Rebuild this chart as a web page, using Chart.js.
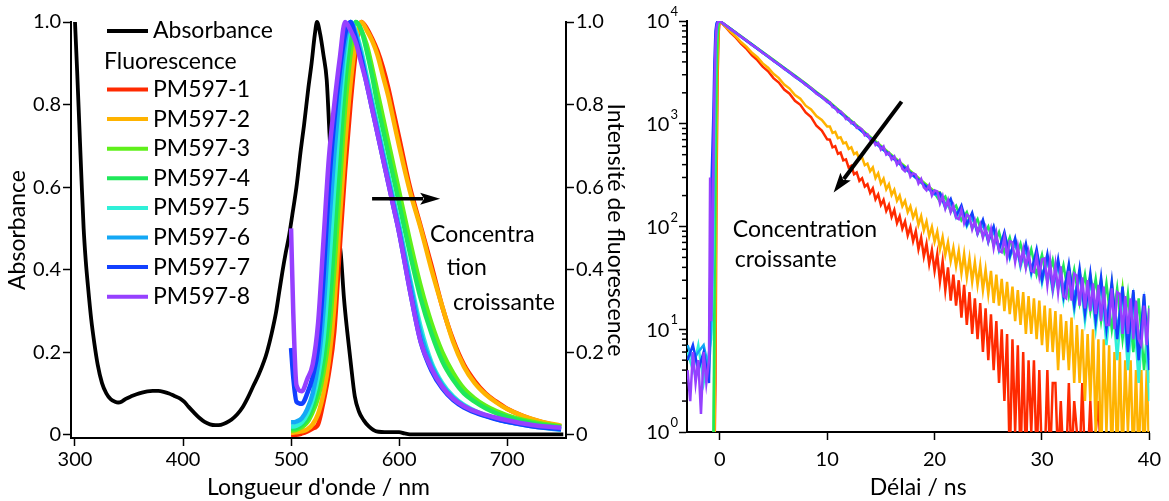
<!DOCTYPE html>
<html>
<head>
<meta charset="utf-8">
<script src="https://cdn.jsdelivr.net/npm/chart.js@4.4.0/dist/chart.umd.min.js"></script>
<style>
html, body { margin: 0; padding: 0; background: #fff; }
#gauche { position: absolute; left: 0; top: 0; width: 640px; height: 501px; }
#droite { position: absolute; left: 640px; top: 0; width: 529px; height: 501px; }
</style>
</head>
<body>
<div id="gauche"><canvas id="spectres"></canvas></div>
<div id="droite"><canvas id="declins"></canvas></div>
<script>
const POLICE = 'Lato, "Open Sans", sans-serif';
Chart.defaults.font.family = POLICE;
Chart.defaults.color = '#000';

// ---- spectre d'absorption ----
const lambdaAbs = [300,302,304,306,308,310,312,315,318,321,325,329,333,337,340,343,347,352,357,362,
  367,372,377,382,387,392,397,401,405,410,415,420,425,430,435,440,445,450,455,460,
  465,470,475,478,482,486,489,492,495,498,501,505,509,512,516,519,522,524,527,530,
  533,536,540,543,546,549,552,555,559,563,567,572,579,590,600,605,610,650,700,752];
const absorbance = [1.0,0.88,0.75,0.62,0.5,0.42,0.36,0.28,0.22,0.17,0.125,0.1,0.086,0.08,0.078,0.08,0.087,0.093,0.098,0.102,
  0.105,0.106,0.106,0.104,0.1,0.094,0.088,0.08,0.068,0.054,0.041,0.031,0.025,0.023,0.024,0.029,0.037,0.049,0.066,0.09,
  0.118,0.145,0.178,0.203,0.245,0.295,0.345,0.395,0.44,0.48,0.53,0.6,0.69,0.75,0.84,0.9,0.97,1.0,0.97,0.92,
  0.86,0.71,0.58,0.5,0.44,0.33,0.25,0.18,0.093,0.055,0.036,0.02,0.008,0.006,0.006,0.003,0.001,0.001,0.001,0.001];

// ---- spectres de fluorescence (normalisés) ----
const lambdaFluo = [500,502,505,510,515,520,525,530,535,540,545,550,555,560,565,570,575,580,585,590,
  595,600,610,620,630,640,650,660,670,680,690,700,715,730,750];
const fluo1 = [0,0,0,0.003,0.008,0.015,0.025,0.08,0.15,0.25,0.45,0.64,0.8,0.93,1.0,0.985,0.96,0.93,0.89,0.84,
  0.78,0.72,0.6,0.505,0.41,0.31,0.23,0.17,0.13,0.1,0.08,0.063,0.045,0.032,0.02];
const fluo2 = [0.005,0.005,0.006,0.008,0.013,0.025,0.05,0.1,0.18,0.31,0.52,0.7,0.85,0.95,1.0,0.98,0.955,0.92,0.87,0.82,
  0.76,0.7,0.59,0.5,0.4,0.31,0.225,0.165,0.125,0.098,0.078,0.062,0.045,0.033,0.022];
const fluo3 = [0.01,0.01,0.012,0.018,0.03,0.055,0.09,0.15,0.24,0.4,0.6,0.79,0.92,1.0,0.98,0.945,0.89,0.83,0.77,0.71,
  0.65,0.59,0.47,0.36,0.27,0.2,0.15,0.112,0.088,0.07,0.057,0.047,0.036,0.028,0.02];
const fluo4 = [0.015,0.015,0.016,0.024,0.038,0.068,0.11,0.18,0.29,0.47,0.67,0.85,0.96,1.0,0.98,0.93,0.87,0.8,0.74,0.68,
  0.62,0.56,0.44,0.33,0.245,0.178,0.133,0.1,0.08,0.064,0.052,0.043,0.033,0.025,0.018];
const fluo5 = [0.02,0.02,0.022,0.03,0.05,0.085,0.14,0.23,0.4,0.6,0.78,0.92,1.0,0.975,0.93,0.87,0.81,0.75,0.69,0.63,
  0.57,0.51,0.38,0.26,0.175,0.125,0.093,0.072,0.058,0.047,0.039,0.032,0.025,0.019,0.013];
const fluo6 = [0.03,0.03,0.032,0.04,0.062,0.1,0.17,0.3,0.5,0.68,0.83,0.95,1.0,0.97,0.92,0.86,0.8,0.74,0.68,0.62,
  0.56,0.5,0.37,0.245,0.168,0.12,0.09,0.07,0.056,0.046,0.038,0.031,0.024,0.018,0.012];
const fluo7 = [0.21,0.14,0.08,0.075,0.1,0.14,0.21,0.38,0.6,0.76,0.88,0.97,1.0,0.96,0.91,0.85,0.79,0.73,0.67,0.61,
  0.55,0.49,0.35,0.225,0.155,0.112,0.084,0.066,0.054,0.045,0.037,0.031,0.024,0.018,0.014];
const fluo8 = [0.5,0.3,0.12,0.105,0.135,0.17,0.27,0.47,0.67,0.8,0.91,1.0,0.98,0.95,0.9,0.85,0.79,0.73,0.67,0.61,
  0.55,0.49,0.35,0.225,0.16,0.116,0.087,0.069,0.057,0.048,0.041,0.035,0.027,0.021,0.017];

const noms = ['PM597-1','PM597-2','PM597-3','PM597-4','PM597-5','PM597-6','PM597-7','PM597-8'];
const couleurs = ['#ff2a00','#ffb300','#5ff01a','#1fe85a','#2ff0d8','#14a8f5','#1240ff','#9640ff'];

const ticksLambda = [300, 400, 500, 600, 700];
const ticksIntensite = [0, 0.2, 0.4, 0.6, 0.8, 1.0];

// ---- déclins de fluorescence (coups) ----
const tFin = [-3,-2.75,-2.5,-2.25,-2,-1.75,-1.5,-1.25,-1,-0.9,-0.8,-0.7,-0.6,-0.5,-0.4,-0.3,-0.2,-0.1,0,
  0.5,1,1.5,2,2.5,3,3.5,4,4.5,5,5.5,6,6.5,7,7.5,8,8.5,9,9.5,10,
  10.25,10.5,10.75,11, 11.25,11.5,11.75,12, 12.25,12.5,12.75,13, 13.25,13.5,13.75,14, 14.25,14.5,14.75,15,
  15.25,15.5,15.75,16, 16.25,16.5,16.75,17, 17.25,17.5,17.75,18, 18.25,18.5,18.75,19, 19.25,19.5,19.75,20,
  20.25,20.5,20.75,21, 21.25,21.5,21.75,22, 22.25,22.5,22.75,23, 23.25,23.5,23.75,24, 24.25,24.5,24.75,25,
  25.25,25.5,25.75,26, 26.25,26.5,26.75,27, 27.25,27.5,27.75,28, 28.25,28.5,28.75,29, 29.25,29.5,29.75,30,
  30.25,30.5,30.75,31, 31.25,31.5,31.75,32, 32.25,32.5,32.75,33, 33.25,33.5,33.75,34, 34.25,34.5,34.75,35,
  35.25,35.5,35.75,36, 36.25,36.5,36.75,37, 37.25,37.5,37.75,38, 38.25,38.5,38.75,39, 39.25,39.5,39.75,40];
const tGros = [-3,-2.5,-2,-1.5,-1,-0.8,-0.6,-0.5,-0.4,-0.3,-0.2,-0.1,0,
  1,2,3,4,5,6,7,8,9,10,11,12,13,14,15,16,17,18,19,20,
  20.5,21,21.5,22,22.5,23,23.5,24,24.5,25,25.5,26,26.5,27,27.5,28,28.5,29,29.5,30,
  30.5,31,31.5,32,32.5,33,33.5,34,34.5,35,35.5,36,36.5,37,37.5,38,38.5,39,39.5,40];

const declin1 = [0.5,0.5,0.5,0.5,0.5,0.5,0.5,0.5,0.5,0.5,0.5,0.5,0.5,0.5,3,250,2800,7800,10000,
  8840,7720,6880,5990,5350,4640,4160,3590,3240,2780,2520,2150,1960,1670,1530,1290,1160,955,860,705,
  700,590,605,510, 525,440,450,375, 390,322,336,278, 295,245,258,212, 235,184,205,162,
  182,142,162,124, 145,108,126,95, 112,82,99,72, 90,60,78,51, 68,43,59,37,
  54,29,46,24, 40,19,34,17, 30,13,27,11, 23,9,20,8, 18,6,16,5,
  14,4,12,3, 10,2,9,0.5, 8,1,7,0.5, 6,0.5,5,1, 5,0.5,4,0.5,
  0.5,4,0.5,3, 3,0.5,2,0.5, 0.5,3,0.5,2, 1,0.5,3,0.5, 0.5,2,0.5,1,
  2,0.5,0.5,1, 0.5,1,0.5,0.5, 0.5,0.5,1,0.5, 0.5,0.5,0.5,0.5, 0.5,0.5,0.5,0.5];
const declin2 = [0.5,0.5,0.5,0.5,0.5,0.5,0.5,0.5,0.5,0.5,0.5,0.5,0.5,0.5,15,700,4800,8900,10000,
  8920,7870,7070,6210,5600,4900,4440,3870,3510,3060,2780,2410,2200,1900,1750,1500,1380,1190,1090,940,
  940,815,835,725, 740,645,660,570, 590,505,525,450, 470,395,410,345, 375,296,330,262,
  292,230,258,203, 228,178,200,158, 178,138,157,122, 143,104,126,92, 112,80,99,71,
  89,60,79,53, 70,46,62,41, 58,35,54,32, 49,29,45,27, 42,24,38,22,
  37,18,34,17, 31,15,29,14, 26,12,24,11, 23,9,21,9, 20,8,19,7,
  17,6,16,6, 15,4,14,5, 12,4,13,3, 11,3,10,2, 9,2,10,1,
  8,0.5,8,1, 7,0.5,6,0.5, 6,0.5,5,1, 5,0.5,4,0.5, 4,0.5,4,0.5];
const declin3 = [0.5,0.5,0.5,0.5,0.5,0.5,0.5,5,200,2500,7000,9500,10000,
  8450,7090,5950,4990,4190,3510,2950,2470,2040,1700,1385,1125,918,748,610,497,405,330,269,219,
  215,160,180,128,150,110,128,88,108,74,92,62,80,52,70,44,60,38,52,33,
  48,27,44,23,40,19,36,16,33,14,30,12,28,9,25,7,23,5,21,3];
const declin4 = [0.5,0.5,0.5,0.5,0.5,0.5,0.5,20,600,4000,8000,9700,10000,
  8400,7040,5900,4940,4140,3470,2905,2435,2005,1670,1358,1103,897,729,593,482,391,318,259,211,
  175,196,140,160,115,138,96,118,80,100,66,88,56,78,48,68,40,60,34,53,
  29,47,25,42,21,38,18,34,15,31,12,28,10,25,8,22,6,20,4,17];
const declin5 = [6,4,7,3,6,8,60,900,5000,8500,9600,9900,10000,
  8360,7000,5860,4905,4110,3440,2880,2410,1988,1652,1343,1090,886,720,585,476,386,314,255,207,
  210,150,175,122,152,100,130,84,112,70,98,58,84,49,74,40,64,34,56,28,
  50,23,44,19,39,15,35,12,31,10,28,7,25,5,23,4,20,3,18,2];
const declin6 = [7,5,6,7,4,10,150,1500,6000,9000,9800,9950,10000,
  8350,6990,5850,4900,4100,3435,2875,2405,1985,1650,1340,1088,884,718,584,475,385,313,254,206,
  200,168,165,136,142,112,120,92,102,78,88,64,77,55,67,47,58,40,51,34,
  46,29,41,25,36,21,33,18,30,15,27,13,24,10,22,8,20,6,18,5];
const declin7 = [5,7,4,6,3,200,1200,4000,8000,9500,9900,10000,10000,
  8390,7030,5890,4930,4130,3460,2895,2425,2000,1665,1352,1099,893,726,590,480,390,317,258,210,
  212,155,186,126,160,104,136,86,116,72,100,60,88,51,77,43,68,36,60,30,
  54,25,48,21,43,17,39,14,35,12,32,10,29,8,26,6,24,5,22,4];
const declin8 = [4,2,6,3,5,1.5,6,3,5,300,12,40,350,2200,5800,8600,9600,9950,10000,
  9180,8330,7700,6980,6460,5830,5410,4880,4540,4080,3800,3410,3190,2850,2670,2390,2230,1960,1840,1630,
  1620,1450,1440,1300, 1320,1240,1110,1120, 1010,1030,910,920, 880,770,790,700, 710,620,650,560,
  600,500,520,450, 480,400,440,365, 345,380,305,330, 320,262,290,240, 225,252,200,225,
  220,168,198,150, 180,138,160,122, 118,145,108,130, 125,94,114,86, 104,78,97,72,
  94,62,86,58, 56,78,50,72, 70,45,64,43, 60,40,56,37, 36,51,33,48,
  49,27,46,25, 42,23,41,21, 20,37,19,35, 33,17,32,16, 30,15,28,14,
  27,12,26,11, 11,25,10,23, 22,9,21,9, 20,8,19,8, 7,17,7,16];

const ticksDelai = [0, 10, 20, 30, 40];
const ticksCoups = [1, 10, 100, 1000, 10000];

const paires = (xs, ys) => xs.map((x, i) => ({ x: x, y: ys[i] }));

// traits des graduations, à l'extérieur du cadre
function axe(extra) {
  return Object.assign({
    grid: { drawOnChartArea: false, drawTicks: true, tickLength: 8, tickColor: '#000', tickWidth: 1.5 },
    border: { display: true, color: '#000', width: 2 },
    ticks: { color: '#000', font: { size: 20 }, padding: 2, maxRotation: 0, autoSkip: false }
  }, extra);
}

function fleche(ctx, x0, y0, x1, y1, epaisseur, longueur, demi) {
  const ang = Math.atan2(y1 - y0, x1 - x0);
  const xb = x1 - longueur * Math.cos(ang), yb = y1 - longueur * Math.sin(ang);
  ctx.save();
  ctx.strokeStyle = '#000';
  ctx.fillStyle = '#000';
  ctx.lineWidth = epaisseur;
  ctx.beginPath();
  ctx.moveTo(x0, y0);
  ctx.lineTo(xb + 3 * Math.cos(ang), yb + 3 * Math.sin(ang));
  ctx.stroke();
  ctx.beginPath();
  ctx.moveTo(x1, y1);
  ctx.lineTo(xb + demi * Math.sin(ang), yb - demi * Math.cos(ang));
  ctx.lineTo(xb + 4 * Math.cos(ang), yb + 4 * Math.sin(ang));
  ctx.lineTo(xb - demi * Math.sin(ang), yb + demi * Math.cos(ang));
  ctx.closePath();
  ctx.fill();
  ctx.restore();
}

// légende + annotations du spectre
const decorSpectres = {
  id: 'decorSpectres',
  afterDraw(chart) {
    const ctx = chart.ctx;
    const sx = chart.scales.x, sy = chart.scales.y2;
    ctx.save();
    ctx.font = '23px ' + POLICE;
    ctx.textBaseline = 'middle';
    ctx.textAlign = 'left';
    ctx.fillStyle = '#000';
    // légende
    ctx.lineCap = 'butt';
    ctx.strokeStyle = '#000';
    ctx.lineWidth = 4;
    ctx.beginPath(); ctx.moveTo(107, 31); ctx.lineTo(148, 31); ctx.stroke();
    ctx.fillText('Absorbance', 153, 31);
    ctx.fillText('Fluorescence', 104, 62);
    noms.forEach((nom, i) => {
      const y = 89.5 + i * 29.6;
      ctx.strokeStyle = couleurs[i];
      ctx.lineWidth = 4;
      ctx.beginPath(); ctx.moveTo(107, y); ctx.lineTo(148, y); ctx.stroke();
      ctx.fillText(nom, 153, y);
    });
    // annotation
    ctx.fillText('Concentra', sx.getPixelForValue(628.7), sy.getPixelForValue(0.485));
    ctx.fillText('tion', sx.getPixelForValue(644.2), sy.getPixelForValue(0.405));
    ctx.fillText('croissante', sx.getPixelForValue(650), sy.getPixelForValue(0.32));
    ctx.restore();
    fleche(ctx, sx.getPixelForValue(575), sy.getPixelForValue(0.572),
      sx.getPixelForValue(638), sy.getPixelForValue(0.572), 3.5, 20, 6);
  }
};

// graduations secondaires et étiquettes 10^n du déclin
const decorDeclins = {
  id: 'decorDeclins',
  afterDraw(chart) {
    const ctx = chart.ctx;
    const sx = chart.scales.x, sy = chart.scales.y;
    const gauche = chart.chartArea.left;
    ctx.save();
    ctx.strokeStyle = '#000';
    ctx.lineWidth = 1.5;
    for (let d = 0; d < 4; d++) {
      for (let m = 2; m <= 9; m++) {
        const y = sy.getPixelForValue(m * Math.pow(10, d));
        ctx.beginPath(); ctx.moveTo(gauche - 5, y); ctx.lineTo(gauche, y); ctx.stroke();
      }
    }
    ctx.fillStyle = '#000';
    ctx.textAlign = 'right';
    ctx.textBaseline = 'middle';
    ticksCoups.forEach(v => {
      const y = sy.getPixelForValue(v);
      const exposant = String(Math.round(Math.log10(v)));
      const xe = gauche - 9;
      ctx.font = '13px ' + POLICE;
      ctx.fillText(exposant, xe, y - 9);
      const we = ctx.measureText(exposant).width;
      ctx.font = '20px ' + POLICE;
      ctx.fillText('10', xe - we - 1, y + 1);
    });
    ctx.textAlign = 'left';
    ctx.font = '23px ' + POLICE;
    ctx.fillText('Concentration', sx.getPixelForValue(1.21), sy.getPixelForValue(92.5));
    ctx.fillText('croissante', sx.getPixelForValue(1.4), sy.getPixelForValue(47.2));
    ctx.restore();
    fleche(ctx, sx.getPixelForValue(16.93), sy.getPixelForValue(1641),
      sx.getPixelForValue(10.6), sy.getPixelForValue(214), 4, 20, 6.5);
  }
};

const fluos = [fluo1, fluo2, fluo3, fluo4, fluo5, fluo6, fluo7, fluo8];
const datasetsSpectres = [{
  label: 'Absorbance',
  data: paires(lambdaAbs, absorbance),
  yAxisID: 'y',
  borderColor: '#000',
  borderWidth: 3.8,
  pointRadius: 0,
  cubicInterpolationMode: 'monotone',
  clip: false,
  order: 20
}].concat(fluos.map((serie, i) => ({
  label: noms[i],
  data: paires(lambdaFluo, serie),
  yAxisID: 'y2',
  borderColor: couleurs[i],
  borderWidth: 4.5,
  pointRadius: 0,
  cubicInterpolationMode: 'monotone',
  clip: false,
  order: 10 - i
})));

new Chart(document.getElementById('spectres'), {
  type: 'line',
  data: { datasets: datasetsSpectres },
  options: {
    responsive: true,
    maintainAspectRatio: false,
    animation: false,
    events: [],
    layout: { padding: { top: 22, left: 0, right: 0, bottom: 0 } },
    plugins: { legend: { display: false }, tooltip: { enabled: false } },
    scales: {
      x: axe({
        type: 'linear', min: 296.3, max: 754.5,
        afterBuildTicks: s => { s.ticks = ticksLambda.map(v => ({ value: v })); },
        afterFit: s => { s.height = 63; },
        title: { display: true, text: "Longueur d'onde / nm", font: { size: 23 }, padding: { top: 0, bottom: 0 } }
      }),
      y: axe({
        type: 'linear', position: 'left', min: -0.008, max: 1.0,
        afterBuildTicks: s => { s.ticks = ticksIntensite.map(v => ({ value: v })); },
        afterFit: s => { s.width = 71; },
        title: { display: true, text: 'Absorbance', font: { size: 23 }, padding: { top: 4, bottom: 0 } }
      }),
      y2: axe({
        type: 'linear', position: 'right', min: -0.008, max: 1.0,
        afterBuildTicks: s => { s.ticks = ticksIntensite.map(v => ({ value: v })); },
        afterFit: s => { s.width = 74; },
        title: { display: true, text: 'Intensité de fluorescence', font: { size: 23 }, padding: { top: 11, bottom: 0 } }
      })
    }
  },
  plugins: [decorSpectres]
});

const datasetsDeclins = [
  { serie: declin1, temps: tFin },
  { serie: declin2, temps: tFin },
  { serie: declin3, temps: tGros },
  { serie: declin4, temps: tGros },
  { serie: declin5, temps: tGros },
  { serie: declin6, temps: tGros },
  { serie: declin7, temps: tGros },
  { serie: declin8, temps: tFin }
].map((d, i) => ({
  label: noms[i],
  data: paires(d.temps, d.serie),
  borderColor: couleurs[i],
  borderWidth: 2.5,
  pointRadius: 0,
  tension: 0,
  order: 10 - i
}));

new Chart(document.getElementById('declins'), {
  type: 'line',
  data: { datasets: datasetsDeclins },
  options: {
    responsive: true,
    maintainAspectRatio: false,
    animation: false,
    events: [],
    layout: { padding: { top: 21, left: 0, right: 19, bottom: 0 } },
    plugins: { legend: { display: false }, tooltip: { enabled: false } },
    scales: {
      x: axe({
        type: 'linear', min: -3.05, max: 40,
        afterBuildTicks: s => { s.ticks = ticksDelai.map(v => ({ value: v })); },
        afterFit: s => { s.height = 69; },
        ticks: { color: '#000', font: { size: 20 }, padding: 8, maxRotation: 0, autoSkip: false },
        title: { display: true, text: 'Délai / ns', font: { size: 23 }, padding: { top: 0, bottom: 0 } }
      }),
      y: axe({
        type: 'logarithmic', position: 'left', min: 1, max: 10000,
        afterBuildTicks: s => { s.ticks = ticksCoups.map(v => ({ value: v })); },
        afterFit: s => { s.width = 47; },
        ticks: { display: false }
      })
    }
  },
  plugins: [decorDeclins]
});
</script>
</body>
</html>
